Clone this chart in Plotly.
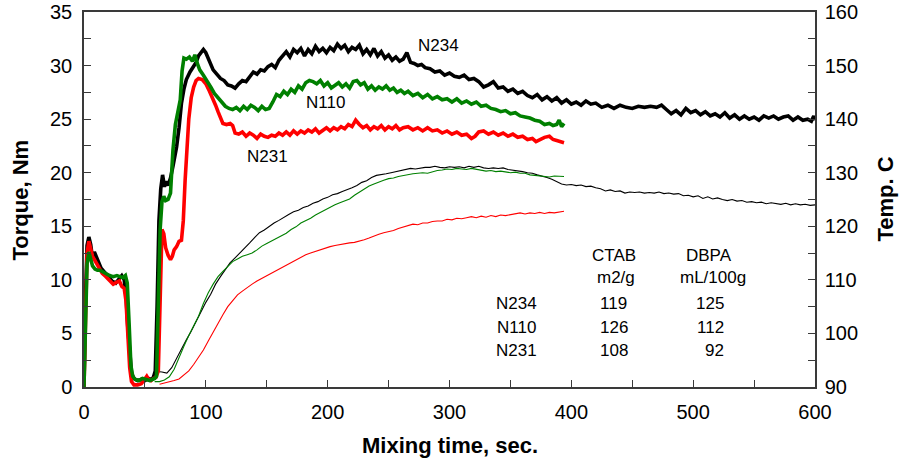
import plotly.graph_objects as go

# ---------------- data ----------------
# Torque (Nm), thick lines
t_n234 = [0,1,2.5,4,5.5,7,8.5,10,12,14,17,20,23,26,29,31,33,34.5,36,37.5,39,41,44,47,50,53,55,57,58.5,60,61.5,63,64.5,66,67.5,69,71,73,76,78,80,82,84,87,90,92,94,96,98,
          100,103,106,109,112,115,118,121,124,127,130,133,136,139,142,145,148,151,154,157,160,163,166,169,172,175,178,181,184,187,190,193,196,199,202,205,208,211,214,217,220,223,226,229,232,235,238,241,244,247,250,253,256,259,262,265,268,271,274,277,280,284,288,292,296,300,304,308,312,316,320,324,328,332,336,340,344,348,352,356,360,364,368,372,376,380,384,388,392,396,400,404,408,412,416,420,425,430,435,440,445,450,455,460,465,470,474,478,482,486,490,494,498,502,506,510,514,518,522,526,530,534,538,542,546,550,554,558,562,566,570,574,578,582,586,590,594,597,599,600]
tq_n234 = [0,7.5,13.2,14.0,13.3,12.0,12.6,12.2,11.6,11.1,10.7,10.3,9.9,9.7,10.2,10.4,10.0,8.5,5.5,3.0,1.3,0.8,0.6,0.7,0.6,0.8,0.7,0.9,1.5,7.5,15.5,18.5,19.8,18.7,19.2,18.8,19.5,20.6,22.4,24.2,26.5,27.8,28.7,29.4,29.9,30.3,30.9,31.2,31.5,
           31.2,30.4,29.6,29.2,28.8,28.6,28.2,28.1,27.9,28.3,28.6,28.5,29.0,29.4,29.2,29.6,29.5,29.9,30.1,29.8,30.5,30.9,31.3,30.8,31.5,31.2,31.6,30.9,31.5,31.1,31.8,31.3,31.6,31.2,31.7,31.4,32.0,31.6,31.9,31.3,31.7,31.5,31.9,31.1,31.5,31.0,31.6,30.9,31.3,30.7,31.0,30.5,30.8,30.4,30.6,31.2,30.3,30.2,30.0,30.1,29.8,29.7,29.4,29.5,29.1,29.3,29.0,28.9,29.1,28.7,28.8,28.5,28.0,28.2,28.5,27.9,28.0,27.6,27.8,27.4,27.6,27.2,27.0,27.3,26.8,27.1,26.7,27.0,26.5,26.8,26.4,26.6,26.3,26.7,26.4,26.5,26.1,26.3,26.0,26.3,26.1,26.0,26.2,26.1,26.2,26.1,26.3,25.9,25.5,25.8,25.4,26.0,25.6,25.8,25.4,25.7,25.3,25.5,25.2,25.6,25.1,25.4,25.0,25.3,25.0,25.2,24.9,25.3,25.1,25.3,25.0,25.2,25.3,24.9,25.2,24.9,25.0,24.8,25.3,24.9]

t_n110 = [0,1,2.5,4,5.5,7,9,11,13,16,18.5,21,24,27,29.5,32,34,35.5,37,38.5,40,42,45,48,51,54,56,58,59.5,61,62.5,64,65.5,67,69,71,73,75,77,79,80.5,82,84,86.5,89,91,93,
          95,98,101,104,107,110,113,116,119,122,125,128,131,134,137,140,143,146,149,152,155,158,161,164,167,170,173,176,179,182,185,188,191,194,197,200,203,206,209,212,215,218,221,224,227,230,233,236,239,242,245,248,251,254,257,260,263,266,270,274,278,282,286,290,294,298,302,306,310,314,318,322,326,330,334,338,342,346,350,354,358,362,366,370,374,378,382,385,388,390,392,394]
tq_n110 = [0,6,11.5,12.6,12.0,11.3,11.0,10.9,10.9,10.7,10.6,10.4,10.3,10.4,10.3,10.2,10.4,9.7,6.0,2.0,1.0,0.7,0.6,0.8,0.7,0.6,0.7,0.8,1.0,8,14.7,17.3,17.8,17.4,17.5,18.1,22.1,24.5,25.8,26.8,29.5,30.7,30.6,30.8,30.4,31.0,30.2,
           29.6,29.1,28.6,28.0,27.4,27.0,26.6,26.2,26.0,25.9,26.1,25.8,26.2,25.9,26.3,26.1,25.8,26.2,25.9,26.0,26.6,27.3,27.1,27.6,27.3,27.8,27.5,28.1,27.8,28.4,28.6,28.5,28.3,28.6,28.1,28.4,27.9,28.2,28.4,28.0,28.3,27.9,28.5,28.6,28.2,28.4,27.8,28.1,27.7,28.0,27.8,28.1,27.7,27.9,27.5,27.7,27.4,27.6,27.2,27.4,27.0,27.3,26.9,27.1,26.8,26.9,26.6,26.9,26.5,26.7,26.4,26.6,26.2,26.3,26.0,25.9,25.7,25.8,25.5,25.6,25.3,25.2,25.1,24.9,24.8,24.5,24.6,24.4,24.5,24.9,24.3,24.6]

t_n231 = [0,1,2.5,4,5.5,7,9,12,15,18,21,24,27,29,31,33,34.5,36,37.5,39,41,44,47,49,51.5,53,55,57,59,61,62.5,64,65.5,67,69,71,72.5,74,76,78,80,81.5,83,84.5,86,88,90,92,94,
          97,100,103,106,108,110,112,114,117,120,122,124,127,130,133,136,139,142,145,148,151,154,157,160,163,166,169,172,175,178,181,184,187,190,193,196,199,202,205,208,211,214,217,220,223,226,229,232,235,238,241,244,247,250,253,256,259,262,266,270,274,278,282,286,290,294,298,302,306,310,314,318,321,324,328,332,336,340,344,348,352,356,360,364,368,371,374,378,382,385,388,391,394]
tq_n231 = [0,7,12.5,13.6,13.0,12.2,11.8,11.2,10.6,10.3,10.0,9.6,9.8,9.9,9.4,9.2,8.0,4.5,1.8,0.5,0.2,0.2,0.3,0.6,1.0,0.7,0.6,0.8,0.9,1.5,8,14.7,14.3,13.0,12.3,11.9,12.2,12.8,13.1,13.6,13.7,15.5,19.3,22.1,25.0,27.0,28.0,28.6,28.8,
           28.7,28.3,27.6,26.9,26.3,25.7,25.1,24.6,24.5,24.6,24.4,23.7,23.6,23.8,23.4,23.7,23.5,23.2,23.6,23.4,23.3,23.5,23.4,23.7,23.5,23.8,23.5,23.9,23.6,23.9,23.7,24.0,23.8,24.1,23.7,24.0,24.2,23.9,24.2,24.0,24.3,24.1,24.5,24.3,24.9,24.5,24.2,24.4,24.0,24.3,24.1,24.4,24.0,24.3,24.1,24.4,24.0,24.2,24.3,24.0,24.2,23.9,24.2,23.9,24.0,23.7,23.9,23.6,23.8,23.5,23.6,23.2,23.4,23.8,23.9,23.6,23.8,23.5,23.7,23.4,23.6,23.3,23.4,23.1,23.2,22.9,23.1,23.3,23.4,23.1,23.0,22.9,22.8]

# Temperature (C), thin lines
tt_n234 = [56,60,64,68,72,76,80,84,88,92,96,100,104,108,112,116,120,124,128,132,136,140,144,148,152,156,160,164,168,172,176,180,184,188,192,196,200,204,208,212,216,220,224,228,232,236,240,244,248,252,256,260,264,268,272,276,280,284,288,292,296,300,304,308,312,316,320,324,328,332,336,340,344,348,352,356,360,364,368,372,376,380,384,388,392,396,400,404,408,412,416,420,424,428,432,436,440,444,448,452,456,460,464,468,472,476,480,484,488,492,496,500,504,508,512,516,520,524,528,532,536,540,544,548,552,556,560,564,568,572,576,580,584,588,592,596,600]
temp_n234 = [92.0,92.9,92.8,92.6,93.6,95.4,97.0,98.8,100.4,102.2,104.2,105.8,107.3,109.2,110.6,111.9,113.2,114.1,115.0,116.0,116.9,117.9,118.8,119.3,120.0,120.6,121.1,121.7,122.2,122.7,123.0,123.5,123.8,124.3,124.6,125.1,125.4,125.9,126.1,126.5,126.8,127.2,127.6,128.2,128.5,129.1,129.5,129.6,129.8,130.0,130.2,130.4,130.5,130.8,130.7,130.9,131.0,131.0,131.2,131.0,130.9,131.1,131.0,131.1,130.9,131.2,131.0,131.2,130.9,130.8,130.9,130.8,130.9,130.6,130.5,130.3,130.2,130.0,129.9,129.6,129.4,129.1,128.8,128.4,127.9,127.7,127.8,127.6,127.7,127.4,127.5,127.2,127.0,126.6,126.8,126.5,126.6,126.2,126.4,126.3,126.4,126.2,126.3,126.2,126.4,126.1,126.2,126.0,126.1,125.7,125.8,125.5,125.7,125.2,125.5,125.1,125.3,125.0,124.8,125.0,124.7,124.8,124.5,124.6,124.4,124.5,124.2,124.4,124.3,124.1,124.3,124.0,124.2,124.0,124.1,123.9,124.0]

tt_n110 = [58,62,66,70,74,78,82,86,90,94,98,102,106,110,114,118,122,126,130,134,138,142,146,150,154,158,162,166,170,174,178,182,186,190,194,198,202,206,210,214,218,222,226,230,234,238,242,246,250,254,258,262,266,270,274,278,282,286,290,294,298,302,306,310,314,318,322,326,330,334,338,342,346,350,354,358,362,366,370,374,378,382,386,390,394]
temp_n110 = [91.0,91.0,91.3,91.9,93.3,95.6,97.6,99.6,101.3,103.2,105.6,107.6,109.2,110.6,111.6,112.6,113.4,113.9,114.4,114.7,115.0,115.6,116.3,116.8,117.3,117.8,118.3,118.7,119.4,119.9,120.6,121.0,121.5,122.1,122.6,123.0,123.5,124.0,124.4,124.8,125.1,125.8,126.4,126.9,127.5,127.9,128.3,128.6,128.9,129.0,129.3,129.5,129.6,129.8,129.9,130.0,129.9,130.2,130.4,130.5,130.7,130.6,130.8,130.7,130.6,130.8,130.6,130.5,130.3,130.4,130.2,130.3,130.1,130.0,130.1,129.9,129.9,129.6,129.5,129.4,129.3,129.2,129.4,129.3,129.3]

tt_n231 = [62,66,70,74,78,82,86,90,94,98,102,106,110,114,118,122,126,130,134,138,142,146,150,154,158,162,166,170,174,178,182,186,190,194,198,202,206,210,214,218,222,226,230,234,238,242,246,250,254,258,262,266,270,274,278,282,286,290,294,298,302,306,310,314,318,322,326,330,334,338,342,346,350,354,358,362,366,370,374,378,382,386,390,394]
temp_n231 = [90.5,90.7,90.9,91.2,91.5,92.2,93.0,94.2,95.6,96.9,98.6,100.3,101.9,103.5,105.0,106.2,107.2,107.9,108.6,109.2,109.8,110.3,110.7,111.3,111.8,112.2,112.7,113.3,113.8,114.3,114.7,115.0,115.3,115.7,116.0,116.2,116.4,116.6,116.8,116.9,117.0,117.2,117.5,117.8,118.2,118.5,118.8,119.0,119.2,119.6,119.9,120.1,120.4,120.3,120.6,120.6,120.9,121.0,121.0,121.3,121.2,121.5,121.4,121.6,121.8,121.6,121.9,121.7,122.0,121.8,122.1,122.0,122.2,122.3,122.5,122.3,122.5,122.4,122.6,122.4,122.6,122.5,122.7,122.8]

# table of properties
grades = ["N234", "N110", "N231"]
ctab = ["119", "126", "108"]
dbpa = ["125", "112", "92"]

x_ticks = [0, 100, 200, 300, 400, 500, 600]
torque_ticks = [0, 5, 10, 15, 20, 25, 30, 35]
temp_ticks = [90, 100, 110, 120, 130, 140, 150, 160]

# ---------------- figure ----------------
BLACK, GREEN, RED = "#000000", "#008000", "#ff0000"
FONT = "Liberation Sans, Arial, sans-serif"
AX = "#3a3a3a"

fig = go.Figure()
# temperature (primary y, right side) drawn below torque
for tx, ty, c in [(tt_n234, temp_n234, BLACK), (tt_n110, temp_n110, GREEN), (tt_n231, temp_n231, RED)]:
    fig.add_trace(go.Scatter(x=tx, y=ty, mode="lines", line=dict(color=c, width=1.1),
                             yaxis="y", showlegend=False, hoverinfo="skip"))
# torque (y2, left side)
for tx, ty, c in [(t_n234, tq_n234, BLACK), (t_n231, tq_n231, RED), (t_n110, tq_n110, GREEN)]:
    fig.add_trace(go.Scatter(x=tx, y=ty, mode="lines", line=dict(color=c, width=3.6),
                             yaxis="y2", showlegend=False, hoverinfo="skip"))

tickfont = dict(family=FONT, size=20, color="#000")
fig.update_layout(
    width=901, height=464,
    margin=dict(l=84, r=86, t=12, b=77, autoexpand=False),
    paper_bgcolor="white", plot_bgcolor="white",
    xaxis=dict(range=[0, 600], tickvals=x_ticks, ticks="inside", ticklen=7, tickcolor=AX,
               showline=True, linecolor=AX, linewidth=1.5, mirror=True, showgrid=False, zeroline=False,
               tickfont=tickfont, ticklabelstandoff=6, automargin=False, ticklabeloverflow="allow",
               minor=dict(dtick=50, ticks="inside", ticklen=7, tickcolor=AX, showgrid=False)),
    yaxis=dict(range=[90, 160], tickvals=temp_ticks, side="right", ticks="inside", ticklen=7, tickcolor=AX,
               showline=True, linecolor=AX, linewidth=1.5, showgrid=False, zeroline=False,
               tickfont=tickfont, ticklabelstandoff=4, automargin=False, ticklabeloverflow="allow",
               minor=dict(dtick=5, ticks="inside", ticklen=7, tickcolor=AX, showgrid=False)),
    yaxis2=dict(range=[0, 35], tickvals=torque_ticks, side="left", overlaying="y", ticks="inside",
                ticklen=7, tickcolor=AX, showline=True, linecolor=AX, linewidth=1.5, showgrid=False,
                zeroline=False, tickfont=tickfont, ticklabelstandoff=6, automargin=False,
                ticklabeloverflow="allow",
                minor=dict(dtick=2.5, ticks="inside", ticklen=7, tickcolor=AX, showgrid=False)),
)

ann = []
def txt(x, y, s, size=17, xanchor="center", yref="y2"):
    ann.append(dict(x=x, y=y, xref="x", yref=yref, text=s, showarrow=False, xanchor=xanchor,
                    yanchor="middle", font=dict(family=FONT, size=size, color="#000")))

txt(291, 31.9, "N234")
txt(198, 26.6, "N110")
txt(151, 21.5, "N231")
txt(435, 12.25, "CTAB")
txt(513, 12.25, "DBPA")
txt(436.7, 10.2, "m2/g")
txt(516.3, 10.2, "mL/100g")
row_y = [7.84, 5.6, 3.45]
for g, c1, c2, yy in zip(grades, ctab, dbpa, row_y):
    txt(354.6, yy, g)
    txt(435, yy, c1)
    txt(527, yy, c2, xanchor="right")

title_font = dict(family=FONT, size=22, color="#000")
ann.append(dict(x=0.5, y=-0.155, xref="paper", yref="paper", text="<b>Mixing time, sec.</b>",
                showarrow=False, xanchor="center", yanchor="middle", font=title_font))
ann.append(dict(x=-0.0862, y=0.5, xref="paper", yref="paper", text="<b>Torque, Nm</b>", textangle=-90,
                showarrow=False, xanchor="center", yanchor="middle", font=title_font))
ann.append(dict(x=1.0958, y=0.5, xref="paper", yref="paper", text="<b>Temp. C</b>", textangle=-90,
                showarrow=False, xanchor="center", yanchor="middle", font=title_font))
fig.update_layout(annotations=ann)

# remove the default 8px page margin so the figure fills the 901x464 window exactly
fig.write_html("out.html", config={"displayModeBar": False},
               post_script="document.body.style.margin='0';document.body.style.overflow='hidden';")
